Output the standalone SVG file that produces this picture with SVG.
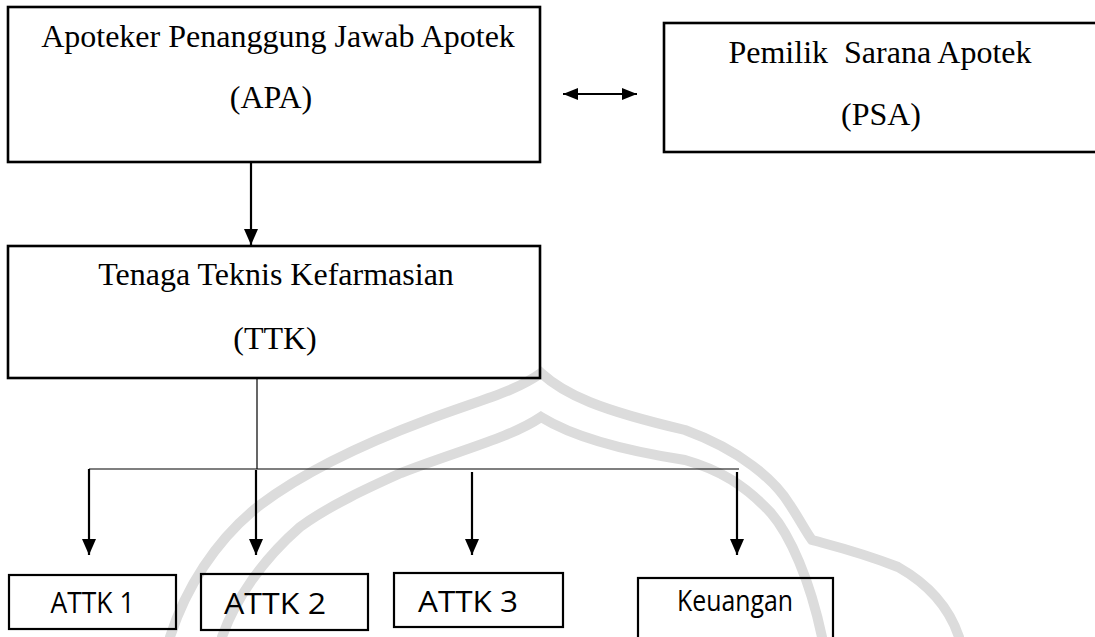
<svg xmlns="http://www.w3.org/2000/svg" width="1095" height="637" viewBox="0 0 1095 637">
<defs>
<style>
.box{fill:none;stroke:#000;stroke-width:2.6}
.sbox{fill:none;stroke:#000;stroke-width:2.2}
.serif{font-family:"Liberation Serif","Times New Roman",serif;font-size:32px;fill:#000;text-anchor:middle}
.sans{font-family:"Open Sans","Liberation Sans",sans-serif;font-size:29px;fill:#000;text-anchor:middle}
.conn{fill:none;stroke:#000;stroke-width:2.2}
.thin{fill:none;stroke:#000;stroke-width:1.2}
.wm{fill:none;stroke:#dcdcdc;stroke-width:10;stroke-linecap:round}
</style>
<marker id="ah" markerUnits="userSpaceOnUse" markerWidth="16" markerHeight="14" refX="16" refY="7" orient="auto">
<path d="M0,0 L16,7 L0,14 z" fill="#000"/>
</marker>
<marker id="ahs" markerUnits="userSpaceOnUse" markerWidth="15" markerHeight="12" refX="15" refY="6" orient="auto-start-reverse">
<path d="M0,0 L15,6 L0,12 z" fill="#000"/>
</marker>
</defs>
<rect width="1095" height="637" fill="#fff"/>
<g id="watermark">
<path class="wm" d="M170,637 C185,590 215,540 260,505 C300,475 360,445 427,420 C480,400 515,392 541,373 C565,395 600,410 685,430 C740,450 775,480 790,505 C800,520 806,532 812,540 C830,545 860,552 898,567 C930,585 950,610 959,637"/>
<path class="wm" d="M222,637 C235,600 262,560 300,527 C330,505 370,487 401,473 C460,450 510,438 541,417 C570,435 620,450 685,460 C720,470 745,485 771,513 C790,535 810,580 822,637"/>
</g>
<g id="connectors">
<line class="conn" x1="251" y1="162" x2="251" y2="245" marker-end="url(#ah)"/>
<line class="conn" x1="563" y1="94" x2="637" y2="94" marker-start="url(#ahs)" marker-end="url(#ahs)"/>
<line class="thin" x1="257" y1="379" x2="257" y2="469"/>
<line class="thin" x1="89" y1="469" x2="739" y2="469"/>
<line class="conn" x1="89" y1="469" x2="89" y2="555" marker-end="url(#ah)"/>
<line class="conn" x1="256" y1="470" x2="256" y2="555" marker-end="url(#ah)"/>
<line class="conn" x1="472" y1="472" x2="472" y2="555" marker-end="url(#ah)"/>
<line class="conn" x1="737" y1="472" x2="737" y2="555" marker-end="url(#ah)"/>
</g>
<g id="apa">
<rect class="box" x="8" y="7" width="532" height="155"/>
<text class="serif" x="278" y="47">Apoteker Penanggung Jawab Apotek</text>
<text class="serif" x="271" y="108">(APA)</text>
</g>
<g id="psa">
<rect class="box" x="664" y="23" width="450" height="129"/>
<text class="serif" x="880" y="63" xml:space="preserve">Pemilik  Sarana Apotek</text>
<text class="serif" x="881" y="125">(PSA)</text>
</g>
<g id="ttk">
<rect class="box" x="8" y="246" width="532" height="132"/>
<text class="serif" x="276" y="285">Tenaga Teknis Kefarmasian</text>
<text class="serif" x="275" y="349">(TTK)</text>
</g>
<g id="attk1">
<rect class="sbox" x="9" y="575" width="167" height="54"/>
<text class="sans" x="92.5" y="613" textLength="84" lengthAdjust="spacingAndGlyphs">ATTK 1</text>
</g>
<g id="attk2">
<rect class="sbox" x="201" y="574" width="167" height="56"/>
<text class="sans" x="275" y="614" textLength="102" lengthAdjust="spacingAndGlyphs">ATTK 2</text>
</g>
<g id="attk3">
<rect class="sbox" x="394" y="573" width="169" height="54"/>
<text class="sans" x="468" y="612" textLength="100" lengthAdjust="spacingAndGlyphs">ATTK 3</text>
</g>
<g id="keuangan">
<rect class="sbox" x="638" y="578" width="195" height="80"/>
<text class="sans" x="735" y="611" textLength="116" lengthAdjust="spacingAndGlyphs">Keuangan</text>
</g>
</svg>
